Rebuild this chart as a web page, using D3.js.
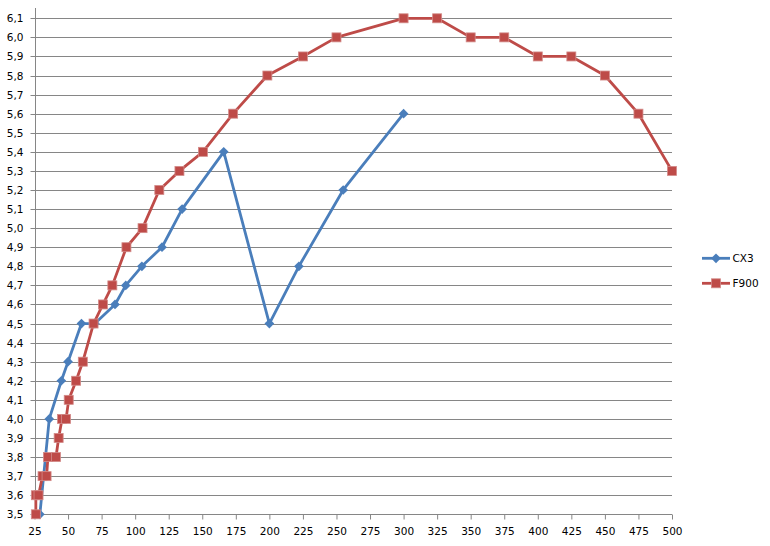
<!DOCTYPE html>
<html>
<head>
<meta charset="utf-8">
<script src="https://cdn.jsdelivr.net/npm/d3@7"></script>
<style>
  html, body { margin: 0; padding: 0; background: #fff; }
  svg { display: block; }
  text { font-family: "DejaVu Sans", Verdana, sans-serif; font-size: 10.5px; fill: #000; }
</style>
</head>
<body>
<svg id="chart" width="770" height="546"></svg>
<script>
// ---- data ----
const cx3X = [29, 36, 45, 50, 60, 70, 85, 93, 105, 120, 135, 166, 200, 222, 255, 300];
const cx3Y = [3.5, 4.0, 4.2, 4.3, 4.5, 4.5, 4.6, 4.7, 4.8, 4.9, 5.1, 5.4, 4.5, 4.8, 5.2, 5.6];

const f900X = [26, 26, 28, 31, 34, 35, 41, 43, 45.5, 48.5, 50.5, 56, 61, 69, 76, 83, 93.5, 105.5, 118, 133,
               150.5, 173, 198.5, 225, 250, 300, 325, 350, 375, 400, 425, 450, 475, 500];
const f900Y = [3.5, 3.6, 3.6, 3.7, 3.7, 3.8, 3.8, 3.9, 4.0, 4.0, 4.1, 4.2, 4.3, 4.5, 4.6, 4.7, 4.9, 5.0, 5.2, 5.3,
               5.4, 5.6, 5.8, 5.9, 6.0, 6.1, 6.1, 6.0, 6.0, 5.9, 5.9, 5.8, 5.6, 5.3];

const xTicks = [25, 50, 75, 100, 125, 150, 175, 200, 225, 250, 275, 300, 325, 350, 375, 400, 425, 450, 475, 500];
const yTicks = [3.5, 3.6, 3.7, 3.8, 3.9, 4.0, 4.1, 4.2, 4.3, 4.4, 4.5, 4.6, 4.7, 4.8, 4.9, 5.0, 5.1, 5.2, 5.3, 5.4, 5.5, 5.6, 5.7, 5.8, 5.9, 6.0, 6.1];

const seriesNames = ["CX3", "F900"];
const seriesColors = ["#4A7EBB", "#BE4B48"];

// ---- layout ----
const svg = d3.select("#chart");
const x = d3.scaleLinear().domain([25, 500]).range([34.5, 672]);
const y = d3.scaleLinear().domain([3.5, 6.1]).range([514.3, 18.3]);
const fmt = v => d3.format(".1f")(v).replace(".", ",");
const gridColor = "#868686";

// gridlines
svg.append("g").selectAll("line").data(yTicks).join("line")
  .attr("x1", x(25) - 4).attr("x2", x(500))
  .attr("y1", d => Math.round(y(d)) + 0.5).attr("y2", d => Math.round(y(d)) + 0.5)
  .attr("stroke", gridColor).attr("stroke-width", 1);

// y axis line
svg.append("line")
  .attr("x1", Math.round(x(25)) + 0.5).attr("x2", Math.round(x(25)) + 0.5)
  .attr("y1", 8).attr("y2", y(3.5))
  .attr("stroke", gridColor);

// x axis
const xAxis = d3.axisBottom(x).tickValues(xTicks).tickSize(5).tickPadding(8).tickFormat(d3.format("d"));
const gx = svg.append("g").attr("transform", `translate(0,${Math.round(y(3.5)) + 0.5})`).call(xAxis);
gx.select(".domain").attr("stroke", gridColor).attr("d", `M${x(25)},0H${x(500)}`);
gx.selectAll(".tick line").attr("stroke", gridColor);
gx.selectAll(".tick text").attr("font-family", "DejaVu Sans, sans-serif").attr("font-size", "10.5px").attr("fill", "#000");

// y labels
svg.append("g").selectAll("text").data(yTicks).join("text")
  .attr("x", 23.5).attr("y", d => y(d))
  .attr("text-anchor", "end").attr("dominant-baseline", "central")
  .text(d => fmt(d));

// ---- series ----
const cx3 = cx3X.map((v, i) => [v, cx3Y[i]]);
const f900 = f900X.map((v, i) => [v, f900Y[i]]);
const line = d3.line().x(d => x(d[0])).y(d => y(d[1]));

function drawSeries(data, color, shape) {
  svg.append("path").datum(data)
    .attr("d", line).attr("fill", "none").attr("stroke", color)
    .attr("stroke-width", 2.8).attr("stroke-linejoin", "round").attr("stroke-linecap", "round");
  const g = svg.append("g");
  if (shape === "diamond") {
    g.selectAll("path").data(data).join("path")
      .attr("d", d3.symbol(d3.symbolDiamond2, 60))
      .attr("transform", d => `translate(${x(d[0])},${y(d[1])})`)
      .attr("fill", color);
  } else {
    g.selectAll("rect").data(data).join("rect")
      .attr("x", d => x(d[0]) - 4.5).attr("y", d => y(d[1]) - 4.5)
      .attr("width", 9).attr("height", 9)
      .attr("fill", color).attr("stroke", "#d38b89").attr("stroke-width", 0.8);
  }
}
drawSeries(cx3, seriesColors[0], "diamond");
drawSeries(f900, seriesColors[1], "square");

// ---- legend ----
const legendY = [258.3, 283.3];
seriesNames.forEach((name, i) => {
  const g = svg.append("g");
  g.append("line").attr("x1", 702).attr("x2", 730).attr("y1", legendY[i]).attr("y2", legendY[i])
    .attr("stroke", seriesColors[i]).attr("stroke-width", 2.8);
  if (i === 0) {
    g.append("path").attr("d", d3.symbol(d3.symbolDiamond2, 60))
      .attr("transform", `translate(716,${legendY[i]})`).attr("fill", seriesColors[i]);
  } else {
    g.append("rect").attr("x", 716 - 4.5).attr("y", legendY[i] - 4.5).attr("width", 9).attr("height", 9)
      .attr("fill", seriesColors[i]).attr("stroke", "#d38b89").attr("stroke-width", 0.8);
  }
  g.append("text").attr("x", 732.5).attr("y", legendY[i]).attr("dominant-baseline", "central").text(name);
});
</script>
</body>
</html>
